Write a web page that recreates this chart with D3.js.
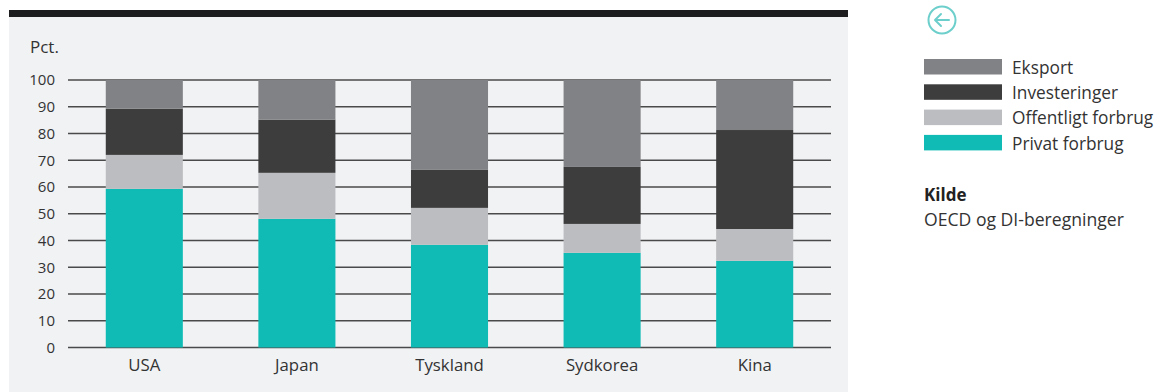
<!DOCTYPE html>
<html><head><meta charset="utf-8">
<script src="https://cdn.jsdelivr.net/npm/d3@7/dist/d3.min.js"></script>
<style>body{margin:0;background:#fff;}svg{display:block;font-family:"Open Sans",sans-serif;}</style>
</head><body>
<svg id="c" width="1155" height="392"></svg>
<script>
const categories = ["USA","Japan","Tyskland","Sydkorea","Kina"];
const seriesNames = ["Privat forbrug","Offentligt forbrug","Investeringer","Eksport"];
const privat     = [59.3, 48.1, 38.4, 35.4, 32.4];
const offentlig  = [12.7, 17.2, 13.8, 10.8, 11.9];
const invest     = [17.3, 19.9, 14.2, 21.3, 37.0];
const eksport    = [10.7, 14.8, 33.6, 32.5, 18.7];
const yTicks = [0,10,20,30,40,50,60,70,80,90,100];
const colors = ["#10bbb5","#bcbdc0","#3d3d3d","#818285"];
const legendOrder = [3,2,1,0];

const svg = d3.select("#c");
svg.append("rect").attr("x",9).attr("y",17).attr("width",839).attr("height",380).attr("fill","#f1f2f4");
svg.append("rect").attr("x",9).attr("y",10).attr("width",839).attr("height",7).attr("fill","#1d1d1f");

const x = d3.scaleBand().domain(categories).range([68,831]).paddingInner(0.495).paddingOuter(0.2475);
const y = d3.scaleLinear().domain([0,100]).range([347.5,80]);

const g = svg.append("g");
g.selectAll("line.grid").data(yTicks).join("line")
  .attr("x1",68).attr("x2",831).attr("y1",d=>y(d)).attr("y2",d=>y(d))
  .attr("stroke","#4a4a4a").attr("stroke-width",1.3);
g.selectAll("text.yt").data(yTicks).join("text")
  .attr("x",55).attr("y",d=>y(d)).attr("dy","0.36em").attr("text-anchor","end")
  .attr("font-size",15).attr("fill","#333").text(d=>d);
svg.append("text").attr("x",30).attr("y",53).attr("font-size",17).attr("fill","#333").text("Pct.");

const rows = categories.map((c,i)=>({cat:c, s0:privat[i], s1:offentlig[i], s2:invest[i], s3:eksport[i]}));
const stack = d3.stack().keys(["s0","s1","s2","s3"])(rows);
svg.append("g").selectAll("g").data(stack).join("g").attr("fill",(d,i)=>colors[i])
  .selectAll("rect").data(d=>d).join("rect")
  .attr("x",d=>x(d.data.cat)).attr("width",x.bandwidth())
  .attr("y",d=>y(Math.min(d[1],100))).attr("height",d=>y(d[0])-y(Math.min(d[1],100)));

svg.append("g").selectAll("text").data(categories).join("text")
  .attr("x",d=>x(d)+x.bandwidth()/2).attr("y",370.5).attr("text-anchor","middle")
  .attr("font-size",16.8).attr("fill","#333").text(d=>d);

// icon
const ic = svg.append("g").attr("transform","translate(942,20)");
ic.append("circle").attr("r",13.5).attr("fill","none").attr("stroke","#6dcfcb").attr("stroke-width",2);
ic.append("path").attr("d","M7,0 H-7 M-1,-6 L-7,0 L-1,6").attr("fill","none").attr("stroke","#6dcfcb").attr("stroke-width",2).attr("stroke-linecap","round").attr("stroke-linejoin","round");

const lg = svg.append("g");
legendOrder.forEach((si,k)=>{
  const yy = 59 + k*25.3;
  lg.append("rect").attr("x",924).attr("y",yy).attr("width",78).attr("height",15.5).attr("fill",colors[si]);
  lg.append("text").attr("x",1012).attr("y",yy+14.8).attr("font-size",17.3).attr("fill","#333").text(seriesNames[si]);
});
svg.append("text").attr("x",924).attr("y",201).attr("font-size",17).attr("font-weight","bold").attr("fill","#222").text("Kilde");
svg.append("text").attr("x",924).attr("y",226).attr("font-size",17.6).attr("fill","#333").text("OECD og DI-beregninger");
</script>
</body></html>
